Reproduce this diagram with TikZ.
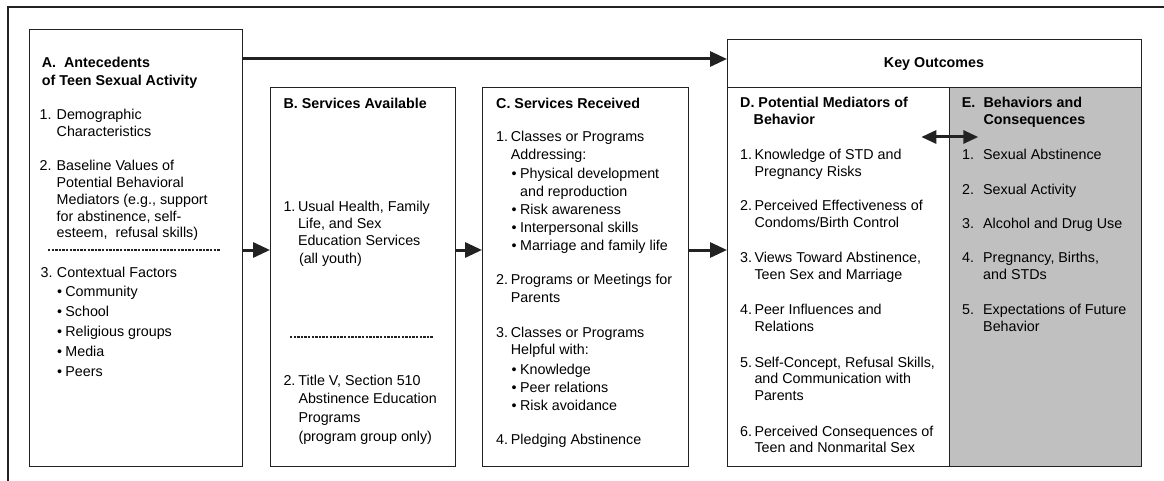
\documentclass[tikz,border=0pt]{standalone}
\usepackage{fontspec}
\setmainfont{Liberation Sans}
\usetikzlibrary{arrows.meta,calc}

\definecolor{ink}{HTML}{222222}
\definecolor{shade}{HTML}{C0C0C0}
\newcommand{\fsz}[1]{\fontsize{14.3pt}{#1pt}\selectfont}
\newcommand{\nm}[2][15pt]{\makebox[#1][l]{#2}}
\newcommand{\hg}[1][15pt]{\hspace*{#1}}
\newcommand{\bl}{\makebox[8.4pt][l]{\textbullet}}
\newcommand{\ls}[1]{\begin{tabular}[t]{@{}l@{}}#1\end{tabular}}

\tikzset{
  box/.style={draw=ink, line width=1.3pt, anchor=north west, inner sep=0pt},
  txt/.style={anchor=base west, inner sep=0pt, font=\fsz{16.7}},
  ttl/.style={txt, font=\fsz{17.3}\bfseries},
  arr/.style={ink, line width=3pt, -{Triangle[length=17pt,width=15pt]}},
  sep/.style={ink, line width=2.2pt, dash pattern=on 2.4pt off 1.2pt},
}

\begin{document}
\begin{tikzpicture}[x=1pt,y=-1pt]
\useasboundingbox (0,0) rectangle (1164,481);

% frame
\draw[ink, line width=1.5pt] (8,481) -- (8,7) -- (1164,7);

% boxes
\node[box, minimum width=213pt, minimum height=437pt] (A) at (29,29) {};
\node[box, minimum width=185pt, minimum height=379pt] (B) at (270,87) {};
\node[box, minimum width=206pt, minimum height=379pt] (C) at (482,87) {};
\node[box, minimum width=414pt, minimum height=48pt] (key) at (727,39) {};
\node[box, minimum width=222pt, minimum height=379pt] (D) at (727,87) {};
\node[box, fill=shade, minimum width=192pt, minimum height=379pt] (E) at (949,87) {};

% arrows
\coordinate (ta) at (0,59);
\coordinate (ma) at (0,250);
\coordinate (da) at (0,137);
\draw[arr] (ta -| A.east) -- (ta -| key.west);
\draw[arr] (ma -| A.east) -- (ma -| B.west);
\draw[arr] (ma -| B.east) -- (ma -| C.west);
\draw[arr] (ma -| C.east) -- (ma -| D.west);
\draw[arr, {Triangle[length=15pt,width=13pt]}-{Triangle[length=15pt,width=13pt]}]
  ($(da -| D.east)+(-29,0)$) -- ($(da -| D.east)+(28,0)$);

% A
\node[ttl] (Ah) at (41.7,68) {\ls{A.\ \ Antecedents\\of Teen Sexual Activity}};
\node[txt] (A1) at (39.5,119.5) {\ls{\nm[17pt]{1.}Demographic\\\hg[17pt]Characteristics}};
\node[txt] (A2) at (39.5,171) {\ls{\nm[17pt]{2.}Baseline Values of\\\hg[17pt]Potential Behavioral\\
  \hg[17pt]Mediators (e.g., support\\\hg[17pt]for abstinence, self-\\\hg[17pt]esteem,\ \ refusal skills)}};
\draw[sep] (48,250) -- (220,250);
\node[txt, font=\fsz{19.8}] (A3) at (40.5,277) {\ls{\nm[16.3pt]{3.}Contextual Factors\\
  \hg[16.3pt]\bl Community\\\hg[16.3pt]\bl School\\\hg[16.3pt]\bl Religious groups\\
  \hg[16.3pt]\bl Media\\\hg[16.3pt]\bl Peers}};

% B
\node[ttl] (Bh) at (283.3,108.5) {B. Services Available};
\node[txt, font=\fsz{17.2}] (B1) at (283.3,211.5) {\ls{\nm[14.5pt]{1.}Usual Health, Family\\
  \hg[14.5pt]Life, and Sex\\\hg[14.5pt]Education Services\\\hg[15.5pt](all youth)}};
\draw[sep] (290,337) -- (433,337);
\node[txt, font=\fsz{18.7}] (B2) at (283.3,385) {\ls{\nm[15pt]{2.}Title V, Section 510\\
  \hg[15pt]Abstinence Education\\\hg[15pt]Programs\\\hg[15pt](program group only)}};

% C
\node[ttl] (Ch) at (496,108.5) {C. Services Received};
\node[txt, font=\fsz{17.5}] (C1) at (496,142) {\ls{\nm[14.7pt]{1.}Classes or Programs\\\hg[14.7pt]Addressing:}};
\node[txt, font=\fsz{17.75}] (C1b) at (511.5,179) {\ls{\bl Physical development\\\hg[8.4pt]and reproduction\\
  \bl Risk awareness\\\bl Interpersonal skills\\\bl Marriage and family life}};
\node[txt, font=\fsz{17.5}] (C2) at (496,284.5) {\ls{\nm[14.7pt]{2.}Programs or Meetings for\\\hg[14.7pt]Parents}};
\node[txt, font=\fsz{17.5}] (C3) at (496,337) {\ls{\nm[14.7pt]{3.}Classes or Programs\\\hg[14.7pt]Helpful with:}};
\node[txt, font=\fsz{18}] (C3b) at (511.5,374) {\ls{\bl Knowledge\\\bl Peer relations\\\bl Risk avoidance}};
\node[txt] (C4) at (496,444.5) {\nm[14.7pt]{4.}Pledging Abstinence};

% key outcomes
\node[ttl, anchor=base] (Kh) at (934,68) {Key Outcomes};

% D
\node[ttl, font=\fsz{16.7}\bfseries] (Dh) at (740,108) {\ls{D. Potential Mediators of\\\hg[13.5pt]Behavior}};
\node[txt] (D1) at (740,159.5) {\ls{\nm[14.3pt]{1.}Knowledge of STD and\\\hg[14.3pt]Pregnancy Risks}};
\node[txt] (D2) at (740,211) {\ls{\nm[14.3pt]{2.}Perceived Effectiveness of\\\hg[14.3pt]Condoms/Birth Control}};
\node[txt] (D3) at (740,262.5) {\ls{\nm[14.3pt]{3.}Views Toward Abstinence,\\\hg[14.3pt]Teen Sex and Marriage}};
\node[txt] (D4) at (740,314.5) {\ls{\nm[14.3pt]{4.}Peer Influences and\\\hg[14.3pt]Relations}};
\node[txt] (D5) at (740,367) {\ls{\nm[14.3pt]{5.}Self-Concept, Refusal Skills,\\\hg[14.3pt]and Communication with\\\hg[14.3pt]Parents}};
\node[txt] (D6) at (740,436) {\ls{\nm[14.3pt]{6.}Perceived Consequences of\\\hg[14.3pt]Teen and Nonmarital Sex}};

% E
\node[ttl, font=\fsz{16.7}\bfseries] (Eh) at (961.7,108) {\ls{\nm[21.6pt]{E.}Behaviors and\\\hg[21.6pt]Consequences}};
\node[txt] (E1) at (962,159.5) {\nm[21pt]{1.}Sexual Abstinence};
\node[txt] (E2) at (962,194.5) {\nm[21pt]{2.}Sexual Activity};
\node[txt] (E3) at (962,228.8) {\nm[21pt]{3.}Alcohol and Drug Use};
\node[txt] (E4) at (962,262.8) {\ls{\nm[21pt]{4.}Pregnancy, Births,\\\hg[21pt]and STDs}};
\node[txt] (E5) at (962,314.5) {\ls{\nm[21pt]{5.}Expectations of Future\\\hg[21pt]Behavior}};

\end{tikzpicture}
\end{document}
